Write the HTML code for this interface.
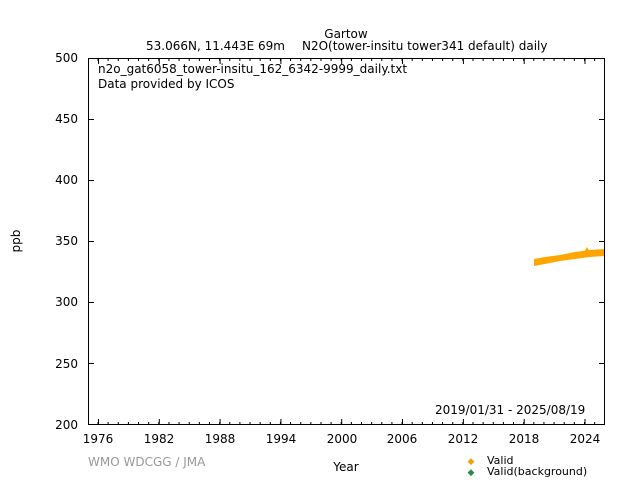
<!DOCTYPE html><html><head><style>body{margin:0;background:#fff}svg{display:block}text{font-family:"DejaVu Sans","Liberation Sans",sans-serif;font-size:12px;fill:#000}</style></head><body>
<svg width="640" height="480" xmlns="http://www.w3.org/2000/svg">
<text x="346" y="38" text-anchor="middle">Gartow</text>
<text x="146" y="50">53.066N, 11.443E 69m</text>
<text x="302" y="50">N2O(tower-insitu tower341 default) daily</text>
<rect x="88.5" y="58.5" width="516" height="366" fill="none" stroke="#000" stroke-width="1"/>
<line x1="97.5" x2="605" y1="423.5" y2="423.5" stroke="#000" stroke-width="3" stroke-dasharray="1 9.135"/>
<line x1="97.5" x2="605" y1="59.5" y2="59.5" stroke="#000" stroke-width="3" stroke-dasharray="1 9.135"/>
<g stroke="#000" stroke-width="1">
<path d="M98.5 425v-6M159.3 425v-6M220.1 425v-6M280.9 425v-6M341.7 425v-6M402.5 425v-6M463.4 425v-6M524.2 425v-6M585 425v-6
M98.5 58v6M159.3 58v6M220.1 58v6M280.9 58v6M341.7 58v6M402.5 58v6M463.4 58v6M524.2 58v6M585 58v6
M88 58.5h6M88 119.5h6M88 180.5h6M88 241.5h6M88 302.5h6M88 363.5h6M88 424.5h6
M599 58.5h6M599 119.5h6M599 180.5h6M599 241.5h6M599 302.5h6M599 363.5h6M599 424.5h6"/>
</g>
<g text-anchor="end">
<text x="78" y="62">500</text><text x="78" y="123">450</text><text x="78" y="184">400</text><text x="78" y="245">350</text><text x="78" y="306">300</text><text x="78" y="368">250</text><text x="78" y="429">200</text>
</g>
<g text-anchor="middle">
<text x="98" y="443">1976</text><text x="159" y="443">1982</text><text x="220" y="443">1988</text><text x="281" y="443">1994</text><text x="342" y="443">2000</text><text x="402" y="443">2006</text><text x="463" y="443">2012</text><text x="524" y="443">2018</text><text x="585" y="443">2024</text>
</g>
<text x="98" y="73">n2o_gat6058_tower-insitu_162_6342-9999_daily.txt</text>
<text x="98" y="88">Data provided by ICOS</text>
<text x="435" y="414">2019/01/31 - 2025/08/19</text>
<text x="20" y="241" text-anchor="middle" transform="rotate(-90 20 241)">ppb</text>
<text x="346" y="471" text-anchor="middle">Year</text>
<text x="88" y="466" style="fill:#999">WMO WDCGG / JMA</text>
<text x="471" y="464" style="fill:#f5a000;font-size:9px" text-anchor="middle">◆</text>
<text x="487" y="464" style="font-size:11px">Valid</text>
<text x="471" y="475" style="fill:#2a8a4a;font-size:9px" text-anchor="middle">◆</text>
<text x="487" y="475" style="font-size:11px">Valid(background)</text>
<path d="M534 259 L545 257 L560 255 L575 252 L590 250 L604 249 L604 256 L590 257 L575 259 L560 261 L545 264 L534 266 Z" fill="#ffa500"/>
<path d="M584 252 l3 -5 l3 5 Z" fill="#ffa500"/>
</svg></body></html>
